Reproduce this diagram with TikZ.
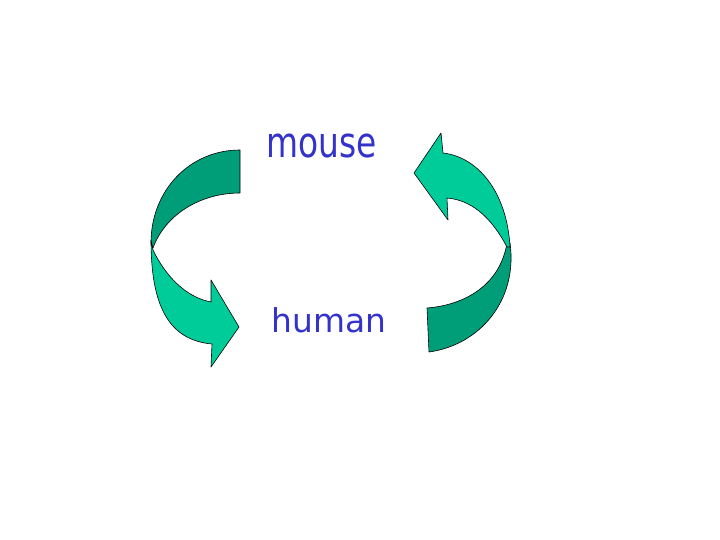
\documentclass[tikz,border=0pt]{standalone}
\usepackage{graphicx}
\usepackage{fontspec}
\newfontfamily\comicfont{DejaVu Sans}
\definecolor{turqlight}{RGB}{0,204,153}
\definecolor{turqdark}{RGB}{0,158,120}
\definecolor{wordblue}{RGB}{51,51,204}

\begin{document}
\begin{tikzpicture}[x=1bp,y=-1bp,
        backface/.style={draw=black, line width=0.6pt, fill=turqdark, line join=round},
        frontface/.style={draw=black, line width=0.6pt, fill=turqlight, line join=round},
        word/.style={text=wordblue, font=\comicfont\fontsize{33}{36}\selectfont, inner sep=0pt}]
        \useasboundingbox (0,0) rectangle (720,540);

        % left arrow, from mouse down to human
        \draw[backface] (240,150) -- (240,193) .. controls (200,193) and (165,215) .. (153,248)
            -- (151,243) .. controls (151,190) and (190,150) .. (240,150) -- cycle;
        \draw[frontface] (151,240) .. controls (151,305) and (168,340) .. (212,344)
            -- (211,367) -- (239,327) -- (211,280) -- (211,302)
            .. controls (185,297) and (165,275) .. (153,250) -- cycle;

        % right arrow, from human up to mouse
        \draw[backface] (427,308) .. controls (465,305) and (500,285) .. (507,243)
            -- (510,243) .. controls (518,300) and (480,345) .. (429,352) -- cycle;
        \draw[frontface] (510,247) .. controls (507,192) and (478,157) .. (443,153)
            -- (441,133) -- (414,173) -- (448,220) -- (447,198)
            .. controls (470,200) and (490,215) .. (507,247) -- cycle;

        \node[word] (mouse) at (322,146.5) {\scalebox{1}[1.28]{mouse}};
        \node[word] (human) at (329,320.5) {human};
    \end{tikzpicture}
\end{document}
